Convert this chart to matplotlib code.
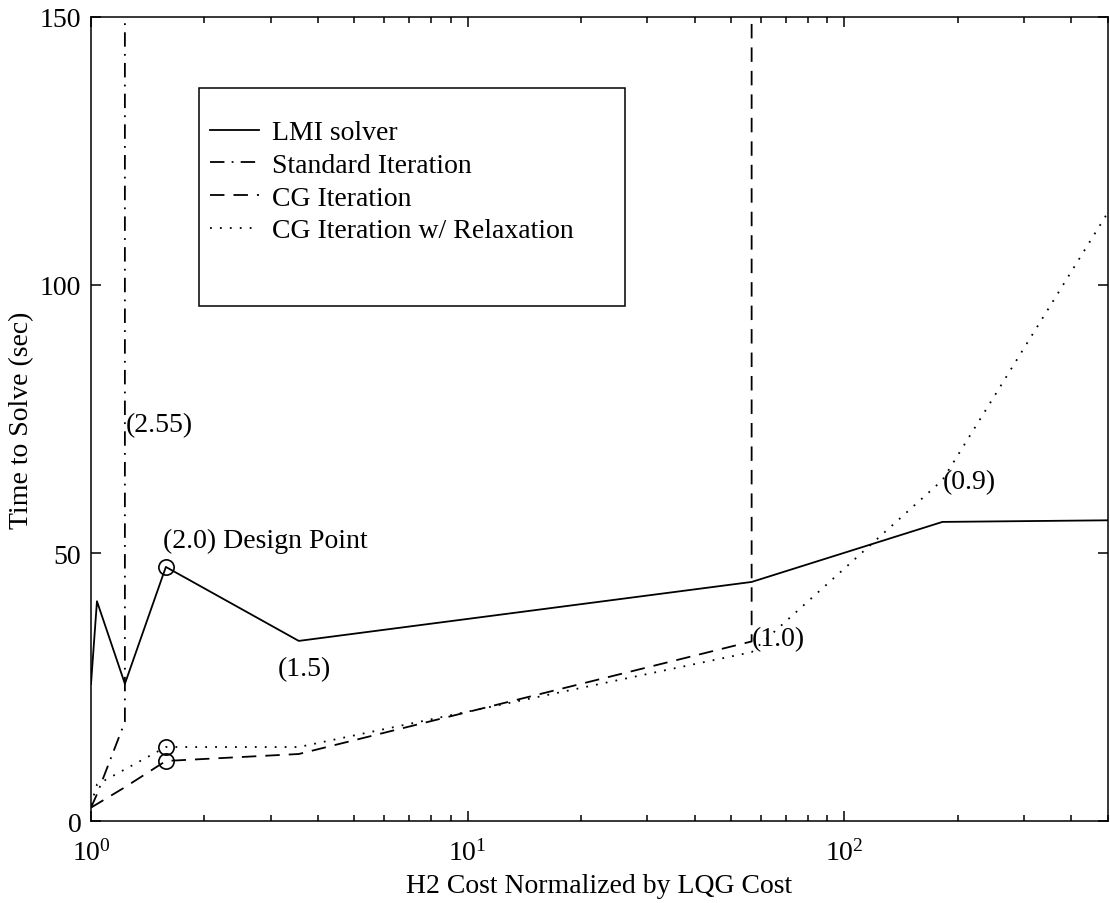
import matplotlib
matplotlib.use("Agg")
import matplotlib.pyplot as plt
from matplotlib.patches import Rectangle
from matplotlib.ticker import LogLocator, FixedLocator

plt.rcParams["font.family"] = ["Liberation Serif", "DejaVu Serif"]
plt.rcParams["mathtext.fontset"] = "custom"
plt.rcParams["mathtext.rm"] = "Liberation Serif"
plt.rcParams["mathtext.it"] = "Liberation Serif:italic"

# H2 cost normalized by LQG cost (x) and solve time in seconds (y)
lmi_x = [1.0, 1.037, 1.23, 1.58, 3.56, 56.7, 182, 500]
lmi_y = [25.6, 41.0, 25.6, 47.4, 33.6, 44.6, 55.8, 56.1]

std_x = [1.0, 1.037, 1.23, 1.23]
std_y = [2.5, 5.0, 18.5, 400]

cg_x = [1.0, 1.23, 1.58, 3.56, 56.7, 56.7]
cg_y = [2.5, 6.3, 11.2, 12.5, 33.5, 400]

relax_x = [1.0, 1.037, 1.58, 3.56, 56.7, 182, 500]
relax_y = [3.0, 6.8, 13.8, 13.8, 31.5, 63.6, 113.5]

design_x = 1.58
design_y = [47.4, 13.8, 11.2]

labels = ["LMI solver", "Standard Iteration", "CG Iteration",
          "CG Iteration w/ Relaxation"]

notes = [("(2.55)", 1.235, 74.0),
         ("(2.0) Design Point", 1.55, 52.3),
         ("(1.5)", 3.13, 28.4),
         ("(1.0)", 56.7, 34.0),
         ("(0.9)", 182, 63.4)]

fs = 20
fig = plt.figure(figsize=(11.1, 9.04), dpi=100)
ax = fig.add_axes([0.082, 0.0907, 0.916, 0.8894])

lw = 1.3
ax.plot(lmi_x, lmi_y, color="black", lw=lw, linestyle="-", label=labels[0])
ax.plot(std_x, std_y, color="black", lw=lw, linestyle=(0, (8, 4, 1, 4)), label=labels[1])
ax.plot(cg_x, cg_y, color="black", lw=lw, linestyle=(0, (8, 5)), label=labels[2])
ax.plot(relax_x, relax_y, color="black", lw=lw, linestyle=(0, (1, 4.5)), label=labels[3])
ax.plot([design_x] * len(design_y), design_y, linestyle="none", marker="o",
        markersize=11, markerfacecolor="none", markeredgecolor="black", markeredgewidth=1.2)

for txt, x, y in notes:
    ax.text(x, y, txt, fontsize=fs, ha="left", va="center")

ax.set_xscale("log")
ax.set_xlim(1, 500)
ax.set_ylim(0, 150)
ax.yaxis.set_major_locator(FixedLocator([0, 50, 100, 150]))
ax.xaxis.set_major_locator(LogLocator(base=10, numticks=10))
ax.xaxis.set_minor_locator(LogLocator(base=10, subs=range(2, 10), numticks=20))

ax.tick_params(which="both", direction="in", top=True, right=True, labelsize=fs, width=1.1)
ax.tick_params(axis="y", which="major", length=7, pad=7)
ax.tick_params(axis="x", which="major", length=7, pad=13)
ax.tick_params(which="minor", length=4)
for s in ax.spines.values():
    s.set_linewidth(1.1)

ax.set_xlabel("H2 Cost Normalized by LQG Cost", fontsize=fs, labelpad=5)
ax.set_ylabel("Time to Solve (sec)", fontsize=fs, labelpad=4)

ax.add_patch(Rectangle((0.106, 0.641), 0.419, 0.271, transform=ax.transAxes,
                       fill=True, facecolor="white", edgecolor="black", lw=1.1, zorder=4))
leg = ax.legend(loc="upper left", bbox_to_anchor=(0.117, 0.872), frameon=False,
                fontsize=fs, handlelength=1.75, handletextpad=0.47,
                labelspacing=0.26, borderpad=0, borderaxespad=0)
leg.set_zorder(5)

fig.savefig("out.png", dpi=100)
